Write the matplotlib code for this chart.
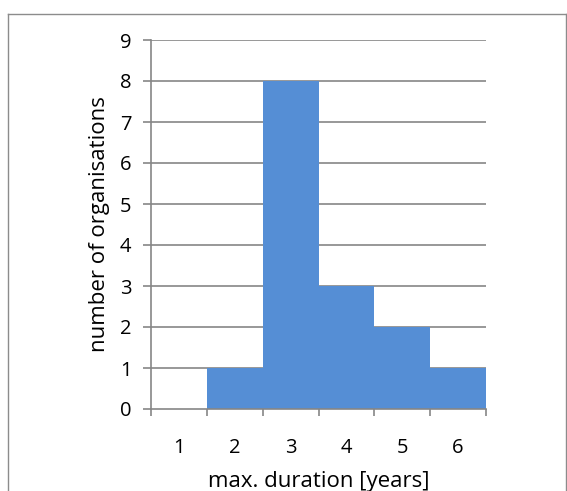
import matplotlib
matplotlib.use("Agg")
import matplotlib.pyplot as plt
from matplotlib.lines import Line2D

categories = ["1", "2", "3", "4", "5", "6"]
values = [0, 1, 8, 3, 2, 1]
yticks = list(range(0, 10))

plt.rcParams['font.family'] = ['Open Sans', 'DejaVu Sans']

fig = plt.figure(figsize=(5.67, 4.91), dpi=100)
ax = fig.add_axes([151/567, 1-409/491, (486-151)/567, (409-40)/491])

gray = "#868686"
x = list(range(len(categories)))
ax.bar(x, values, width=1.0, color="#558ED5", zorder=3, linewidth=0)
ax.set_xlim(-0.5, len(categories) - 0.5)
ax.set_ylim(0, 9)
ax.set_yticks(yticks)
ax.set_yticklabels([str(t) for t in yticks])
ax.set_xticks(x)
ax.set_xticklabels(categories)
ax.set_xticks([i - 0.5 for i in range(len(categories) + 1)], minor=True)
ax.tick_params(axis='x', which='major', length=0, pad=21, labelsize=14.5)
ax.tick_params(axis='x', which='minor', length=5, color=gray, width=1.2)
ax.tick_params(axis='y', length=6, color=gray, width=1.2, labelsize=14.5, pad=8)
for t in ax.get_yticks()[1:]:
    ax.axhline(t, color=gray, linewidth=1.2, zorder=1)
for s in ["top", "right"]:
    ax.spines[s].set_visible(False)
for s in ["left", "bottom"]:
    ax.spines[s].set_color(gray)
    ax.spines[s].set_linewidth(1.2)
ax.spines["bottom"].set_zorder(4)
ax.set_xlabel("max. duration [years]", fontsize=16, labelpad=9)
ax.set_ylabel("number of organisations", fontsize=16, labelpad=7)

bc = "#8c8c8c"
fig.add_artist(Line2D([7.5/567, 7.5/567], [0, 1-13.5/491], transform=fig.transFigure, color=bc, lw=1))
fig.add_artist(Line2D([7.5/567, 566/567], [1-13.5/491, 1-13.5/491], transform=fig.transFigure, color=bc, lw=1))
fig.add_artist(Line2D([566/567, 566/567], [0, 1-13.5/491], transform=fig.transFigure, color=bc, lw=1))

fig.savefig("out.png", dpi=100)
